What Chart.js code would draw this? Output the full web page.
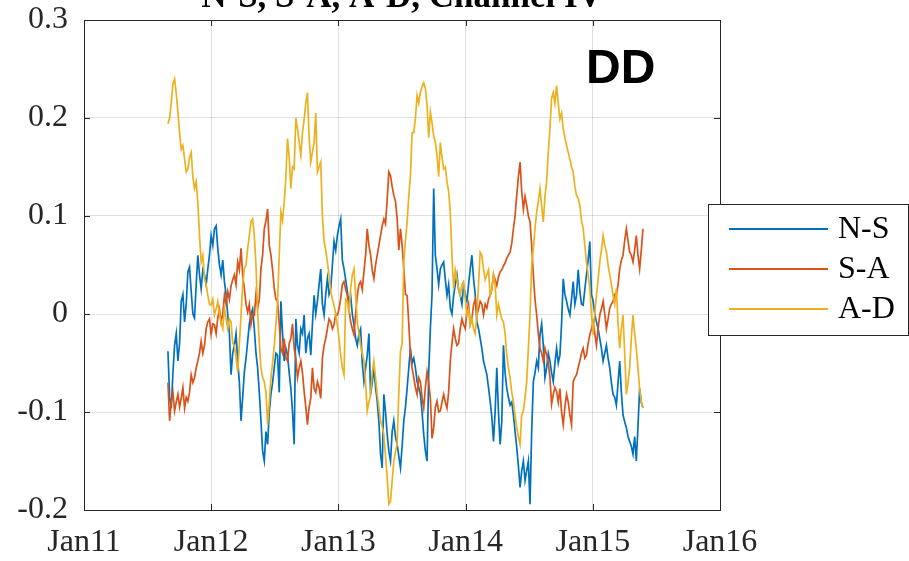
<!DOCTYPE html>
<html><head><meta charset="utf-8">
<script src="https://cdn.jsdelivr.net/npm/chart.js@4"></script>
<style>html,body{margin:0;padding:0;background:#fff;overflow:hidden;}#wrap{width:909px;height:561px;position:relative;}</style>
</head><body><div id="wrap"><canvas id="c" width="909" height="561"></canvas></div>
<script>
const chartTitle = 'N-S, S-A, A-D, Channel IV';
const cornerLabel = 'DD';
const seriesNames = ['N-S', 'S-A', 'A-D'];
const seriesColors = ['#0072BD', '#D95319', '#EDB120'];
const xTickYears = [2011, 2012, 2013, 2014, 2015, 2016];
const xTickLabels = ['Jan11', 'Jan12', 'Jan13', 'Jan14', 'Jan15', 'Jan16'];
const yTickValues = [-0.2, -0.1, 0, 0.1, 0.2, 0.3];
const startYear = 2011.66;
const stepYears = 0.013057;

const ns = [
-0.038,-0.085,-0.096,-0.060,-0.032,-0.020,-0.048,-0.030,0.013,0.020,
-0.008,0.010,0.043,0.048,0.023,0.000,-0.004,0.030,0.060,0.040,
0.026,0.045,0.040,0.030,0.046,0.060,0.080,0.070,0.087,0.090,
0.067,0.050,0.040,0.055,0.033,0.020,-0.001,-0.020,-0.062,-0.040,
-0.032,-0.020,-0.048,-0.070,-0.109,-0.085,-0.059,-0.045,-0.028,-0.010,
-0.001,0.005,-0.015,-0.040,-0.055,-0.080,-0.109,-0.140,-0.150,-0.120,
-0.133,-0.100,-0.082,-0.070,-0.055,-0.040,-0.042,-0.080,0.013,-0.020,
-0.048,-0.035,-0.042,-0.060,-0.076,-0.100,-0.133,-0.005,-0.032,-0.040,
-0.015,-0.020,-0.001,-0.040,-0.025,-0.020,-0.042,-0.010,0.019,0.000,
0.013,0.030,0.046,0.010,-0.001,0.020,0.036,0.020,0.026,0.050,
0.074,0.065,0.080,0.090,0.097,0.055,0.046,0.035,0.023,0.010,
0.019,0.000,-0.011,-0.025,-0.032,-0.020,-0.015,-0.050,-0.069,-0.055,
-0.042,-0.020,-0.082,-0.070,-0.055,-0.075,-0.089,-0.110,-0.143,-0.157,
-0.082,-0.100,-0.123,-0.140,-0.150,-0.120,-0.109,-0.125,-0.133,-0.145,
-0.157,-0.135,-0.109,-0.095,-0.076,-0.055,-0.035,-0.050,-0.045,-0.055,
-0.069,-0.075,-0.082,-0.100,-0.123,-0.140,-0.150,-0.060,-0.015,0.020,
0.128,0.060,0.046,0.030,0.046,0.050,0.053,0.035,0.019,0.030,
0.006,0.000,0.019,0.030,0.040,0.025,0.019,0.010,0.029,0.020,
0.013,0.030,0.046,0.060,0.036,0.020,-0.008,-0.015,-0.025,-0.035,
-0.048,-0.055,-0.062,-0.075,-0.089,-0.105,-0.130,-0.100,-0.055,-0.100,
-0.133,-0.110,-0.032,-0.060,-0.076,-0.085,-0.093,-0.090,-0.103,-0.120,
-0.136,-0.155,-0.177,-0.160,-0.150,-0.170,-0.160,-0.150,-0.194,-0.120,
-0.069,-0.060,-0.048,-0.055,-0.021,-0.010,-0.032,-0.065,-0.055,-0.040,
-0.048,-0.060,-0.069,-0.050,-0.035,-0.050,-0.042,-0.010,0.036,0.020,
0.013,0.005,-0.001,0.015,0.033,0.010,0.019,0.045,0.023,0.010,
0.009,0.025,0.040,0.055,0.074,0.020,0.013,0.000,-0.008,-0.015,
-0.025,-0.035,-0.048,-0.040,-0.032,-0.045,-0.055,-0.070,-0.082,-0.085,
-0.093,-0.070,-0.048,-0.080,-0.103,-0.110,-0.116,-0.125,-0.130,-0.135,
-0.143,-0.125,-0.150,-0.115,-0.076,-0.090,-0.096];

const sa = [
-0.070,-0.109,-0.089,-0.080,-0.099,-0.090,-0.082,-0.095,-0.086,-0.075,
-0.096,-0.085,-0.089,-0.080,-0.062,-0.070,-0.065,-0.055,-0.048,-0.040,
-0.028,-0.040,-0.032,-0.015,-0.008,-0.005,-0.021,-0.010,-0.011,-0.020,
-0.004,0.005,-0.008,0.000,0.019,0.010,0.023,0.015,0.029,0.035,
0.040,0.030,0.053,0.045,0.067,0.040,0.026,0.010,0.002,0.010,
-0.011,0.000,-0.001,0.020,0.006,0.015,0.046,0.060,0.087,0.095,
0.107,0.070,0.060,0.045,0.026,0.015,0.013,-0.010,-0.035,-0.040,
-0.025,-0.045,-0.048,-0.030,-0.025,-0.010,-0.035,-0.045,-0.065,-0.055,
-0.048,-0.060,-0.079,-0.095,-0.113,-0.095,-0.086,-0.055,-0.076,-0.080,
-0.069,-0.075,-0.086,-0.045,-0.032,-0.025,-0.015,-0.005,-0.008,-0.015,
-0.011,0.000,-0.001,0.005,0.016,0.030,0.033,0.025,0.019,0.005,
-0.008,-0.015,-0.021,0.000,0.019,0.030,0.033,0.025,0.043,0.060,
0.087,0.070,0.060,0.045,0.036,0.050,0.060,0.070,0.080,0.090,
0.097,0.092,0.117,0.145,0.141,0.130,0.121,0.115,0.097,0.065,
0.087,0.070,0.046,0.020,0.019,-0.010,-0.042,-0.055,-0.065,-0.075,
-0.082,-0.065,-0.069,-0.085,-0.096,-0.075,-0.059,-0.070,-0.086,-0.127,
-0.116,-0.095,-0.089,-0.100,-0.099,-0.090,-0.082,-0.090,-0.096,-0.080,
-0.048,-0.030,-0.015,-0.025,-0.032,-0.030,-0.015,-0.005,-0.011,-0.015,
0.002,0.010,-0.011,-0.005,0.009,0.015,-0.001,0.005,0.013,0.010,
-0.001,0.010,0.006,0.015,0.019,0.025,0.040,0.035,0.029,0.038,
0.043,0.045,0.049,0.052,0.057,0.060,0.063,0.072,0.087,0.100,
0.121,0.140,0.155,0.125,0.107,0.120,0.111,0.100,0.094,0.070,
0.040,0.015,-0.001,-0.020,-0.035,-0.040,-0.048,-0.035,-0.042,-0.050,
-0.065,-0.092,-0.082,-0.075,-0.079,-0.090,-0.076,-0.100,-0.113,-0.095,
-0.082,-0.090,-0.103,-0.113,-0.069,-0.065,-0.062,-0.055,-0.048,-0.040,
-0.035,-0.045,-0.042,-0.030,-0.021,-0.015,-0.008,-0.020,-0.032,-0.015,
-0.001,0.005,0.013,0.000,-0.015,-0.005,0.006,0.010,0.013,0.020,
0.019,0.030,0.046,0.055,0.060,0.075,0.087,0.075,0.063,0.060,
0.053,0.065,0.080,0.060,0.046,0.065,0.087];

const ad = [
0.194,0.200,0.216,0.235,0.240,0.225,0.206,0.185,0.168,0.172,
0.158,0.145,0.148,0.160,0.165,0.140,0.128,0.135,0.114,0.080,
0.053,0.060,0.036,0.030,0.019,0.010,0.009,0.015,-0.001,0.005,
0.013,0.000,-0.008,-0.015,0.006,-0.005,-0.015,-0.005,-0.008,-0.030,
-0.032,-0.045,-0.059,-0.030,-0.001,0.030,0.046,0.050,0.067,0.080,
0.094,0.097,0.080,0.050,0.002,-0.030,-0.055,-0.065,-0.069,-0.080,
-0.113,-0.090,-0.065,-0.050,-0.032,-0.010,0.013,0.060,0.104,0.095,
0.114,0.140,0.179,0.160,0.128,0.150,0.148,0.200,0.189,0.175,
0.162,0.185,0.199,0.215,0.226,0.180,0.155,0.165,0.175,0.205,
0.145,0.150,0.155,0.100,0.074,0.065,0.053,0.040,0.023,0.015,
0.009,0.000,-0.011,-0.025,-0.042,-0.055,-0.062,0.015,0.013,0.000,
0.026,0.040,0.046,0.020,-0.008,-0.020,-0.032,-0.040,-0.048,-0.070,
-0.099,-0.090,-0.082,-0.060,-0.048,-0.065,-0.082,-0.095,-0.109,-0.115,
-0.123,-0.145,-0.167,-0.194,-0.191,-0.170,-0.150,-0.140,-0.133,-0.080,
-0.038,-0.030,0.053,0.075,0.094,0.120,0.141,0.185,0.185,0.200,
0.223,0.215,0.226,0.232,0.236,0.230,0.213,0.180,0.206,0.195,
0.182,0.175,0.162,0.140,0.175,0.160,0.148,0.150,0.135,0.125,
0.104,0.060,0.026,0.045,0.036,0.025,0.019,0.030,0.033,0.015,
-0.001,0.005,-0.011,-0.005,-0.015,-0.020,-0.001,0.030,0.063,0.060,
0.046,0.035,0.040,0.045,0.019,0.025,0.040,0.030,-0.001,0.010,
0.002,-0.005,-0.008,-0.020,-0.042,-0.055,-0.065,-0.080,-0.090,-0.103,
-0.116,-0.125,-0.133,-0.103,-0.099,-0.085,-0.069,-0.035,-0.001,0.050,
0.067,0.087,0.104,0.115,0.128,0.110,0.094,0.120,0.135,0.165,
0.189,0.220,0.226,0.215,0.233,0.215,0.199,0.205,0.189,0.180,
0.172,0.165,0.158,0.150,0.145,0.130,0.121,0.118,0.111,0.095,
0.087,0.070,0.053,0.040,0.026,0.000,-0.021,0.000,0.019,0.035,
0.053,0.065,0.080,0.070,0.063,0.050,0.040,0.030,0.019,0.010,
0.026,-0.010,-0.035,-0.015,-0.001,-0.040,-0.082,-0.070,-0.055,-0.025,
-0.001,-0.020,-0.035,-0.055,-0.076,-0.090,-0.096];

const seriesValues = [ns, sa, ad];
const serif = '"Liberation Serif", "Times New Roman", serif';
const axisColor = '#262626';

function toPoints(vals) {
  return vals.map((v, i) => ({ x: startYear + i * stepYears, y: v }));
}

const datasets = seriesValues.map((vals, i) => ({
  label: seriesNames[i],
  data: toPoints(vals),
  borderColor: seriesColors[i],
  backgroundColor: seriesColors[i],
  borderWidth: 1.7,
  pointRadius: 0,
  tension: 0,
  fill: false,
  order: 3 - i
}));

const decorPlugin = {
  id: 'decor',
  afterDraw(chart) {
    const ctx = chart.ctx;
    const a = chart.chartArea;
    const xs = chart.scales.x, ys = chart.scales.y;
    ctx.save();
    ctx.strokeStyle = axisColor;
    ctx.lineWidth = 1;
    ctx.strokeRect(Math.round(a.left) + 0.5, Math.round(a.top) + 0.5, Math.round(a.right - a.left), Math.round(a.bottom - a.top));
    const tl = 6;
    ctx.beginPath();
    xTickYears.forEach(t => {
      const px = Math.round(xs.getPixelForValue(t)) + 0.5;
      ctx.moveTo(px, a.bottom); ctx.lineTo(px, a.bottom - tl);
      ctx.moveTo(px, a.top); ctx.lineTo(px, a.top + tl);
    });
    yTickValues.forEach(t => {
      const py = Math.round(ys.getPixelForValue(t)) + 0.5;
      ctx.moveTo(a.left, py); ctx.lineTo(a.left + tl, py);
      ctx.moveTo(a.right, py); ctx.lineTo(a.right - tl, py);
    });
    ctx.stroke();
    ctx.fillStyle = '#000';
    ctx.font = 'bold 35px ' + serif;
    ctx.textAlign = 'center';
    ctx.textBaseline = 'alphabetic';
    ctx.fillText(chartTitle, (a.left + a.right) / 2, 7);
    ctx.font = 'bold 48px "Liberation Sans", Arial, sans-serif';
    ctx.textAlign = 'left';
    ctx.fillText(cornerLabel, 586, 83);
    const lx = 708.5, ly = 204.5, lw = 200, lh = 131;
    ctx.fillStyle = '#fff';
    ctx.fillRect(lx, ly, lw, lh);
    ctx.strokeStyle = axisColor;
    ctx.lineWidth = 1;
    ctx.strokeRect(lx, ly, lw, lh);
    ctx.font = '32px ' + serif;
    ctx.textBaseline = 'middle';
    seriesNames.forEach((name, i) => {
      const yy = 229 + i * 40;
      ctx.strokeStyle = seriesColors[i];
      ctx.lineWidth = 1.8;
      ctx.beginPath(); ctx.moveTo(729, yy); ctx.lineTo(828, yy); ctx.stroke();
      ctx.fillStyle = '#000';
      ctx.fillText(name, 838, yy + 1);
    });
    ctx.restore();
  }
};

new Chart(document.getElementById('c'), {
  type: 'line',
  data: { datasets },
  options: {
    responsive: false,
    devicePixelRatio: 1,
    animation: false,
    layout: { padding: { top: 20, right: 189, left: 0, bottom: 0 } },
    plugins: { legend: { display: false }, tooltip: { enabled: false }, title: { display: false } },
    scales: {
      x: {
        type: 'linear', min: 2011, max: 2016,
        afterBuildTicks: s => { s.ticks = xTickYears.map(v => ({ value: v })); },
        afterFit: s => { s.height = 51; s.paddingLeft = 0; s.paddingRight = 0; },
        ticks: {
          callback: v => xTickLabels[xTickYears.indexOf(v)],
          font: { family: serif, size: 32 }, color: axisColor, padding: 13, maxRotation: 0, autoSkip: false
        },
        grid: { color: 'rgba(38,38,38,0.15)', drawTicks: false, lineWidth: 1 },
        border: { display: false }
      },
      y: {
        min: -0.2, max: 0.3,
        afterBuildTicks: s => { s.ticks = yTickValues.map(v => ({ value: v })); },
        afterFit: s => { s.width = 84; s.paddingTop = 0; s.paddingBottom = 0; },
        ticks: {
          callback: v => (Math.round(v * 10) / 10).toString(),
          font: { family: serif, size: 32 }, color: axisColor, padding: 16
        },
        grid: { color: 'rgba(38,38,38,0.15)', drawTicks: false, lineWidth: 1 },
        border: { display: false }
      }
    }
  },
  plugins: [decorPlugin]
});
</script>
</body></html>
